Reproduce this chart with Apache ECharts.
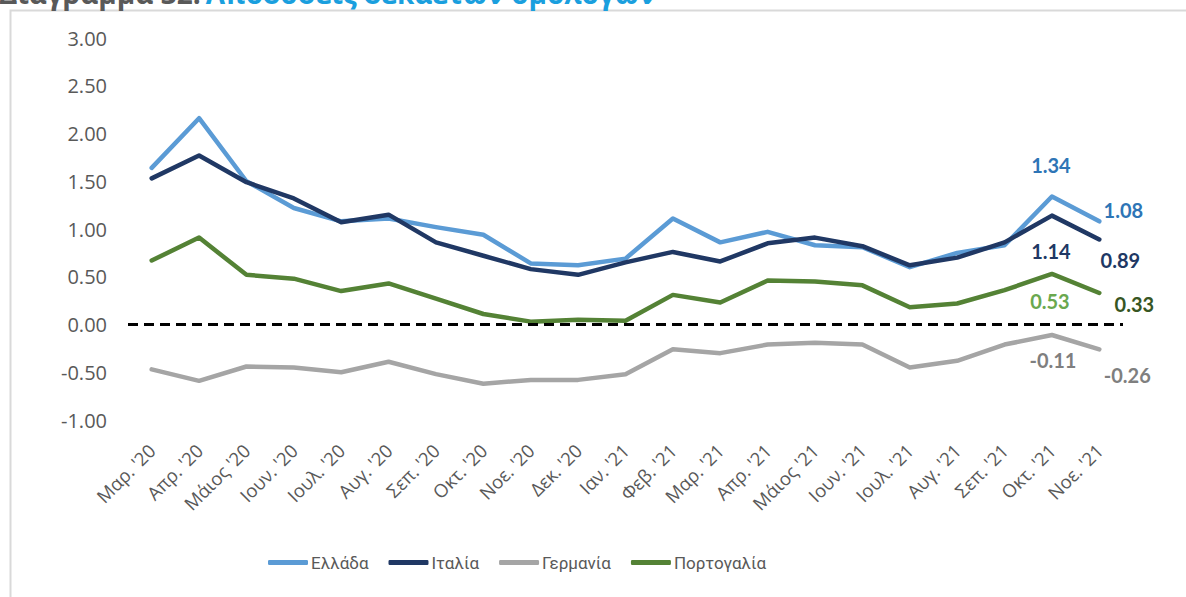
<!DOCTYPE html>
<html>
<head>
<meta charset="utf-8">
<script src="https://cdn.jsdelivr.net/npm/echarts@6/dist/echarts.min.js"></script>
<style>
  html, body { margin: 0; padding: 0; background: #fff; }
  #chart { width: 1186px; height: 597px; }
</style>
</head>
<body>
<div id="chart"></div>
<script>
var months = ["Μαρ. '20", "Απρ. '20", "Μάιος '20", "Ιουν. '20", "Ιουλ. '20", "Αυγ. '20", "Σεπ. '20",
  "Οκτ. '20", "Νοε. '20", "Δεκ. '20", "Ιαν. '21", "Φεβ. '21", "Μαρ. '21", "Απρ. '21", "Μάιος '21",
  "Ιουν. '21", "Ιουλ. '21", "Αυγ. '21", "Σεπ. '21", "Οκτ. '21", "Νοε. '21"];

var greece   = [1.64, 2.16, 1.50, 1.22, 1.08, 1.11, 1.02, 0.94, 0.64, 0.62, 0.69, 1.11, 0.86, 0.97, 0.83, 0.81, 0.60, 0.75, 0.83, 1.34, 1.08];
var italy    = [1.53, 1.77, 1.49, 1.32, 1.07, 1.15, 0.86, 0.72, 0.58, 0.52, 0.65, 0.76, 0.66, 0.85, 0.91, 0.82, 0.62, 0.70, 0.86, 1.14, 0.89];
var germany  = [-0.47, -0.59, -0.44, -0.45, -0.50, -0.39, -0.52, -0.62, -0.58, -0.58, -0.52, -0.26, -0.30, -0.21, -0.19, -0.21, -0.45, -0.38, -0.21, -0.11, -0.26];
var portugal = [0.67, 0.91, 0.52, 0.48, 0.35, 0.43, 0.27, 0.11, 0.03, 0.05, 0.04, 0.31, 0.23, 0.46, 0.45, 0.41, 0.18, 0.22, 0.36, 0.53, 0.33];

var names = ['Ελλάδα', 'Ιταλία', 'Γερμανία', 'Πορτογαλία'];
var yTicks = { min: -1, max: 3, step: 0.5 };

var ink = '#595959';

// label settings for the last two months of each line: [offset, colour]
function withEndLabels(values, endLabels) {
  return values.map(function(v, i) {
    var k = i - (values.length - 2);
    if (k < 0) return v;
    return {
      value: v,
      label: {
        show: true,
        position: 'inside',
        offset: endLabels[k].offset,
        color: endLabels[k].color,
        fontFamily: 'Lato',
        fontWeight: 'bold',
        fontSize: 20,
        formatter: function(p) { return p.value.toFixed(2); }
      }
    };
  });
}

function lineSeries(name, color, values, endLabels) {
  return {
    name: name,
    type: 'line',
    data: withEndLabels(values, endLabels),
    symbol: 'circle',
    symbolSize: 0,
    showSymbol: true,
    lineStyle: { color: color, width: 4.5, cap: 'round', join: 'round' },
    itemStyle: { color: color },
    emphasis: { disabled: true }
  };
}

var chart = echarts.init(document.getElementById('chart'), null, { renderer: 'svg' });
chart.setOption({
  animation: false,
  title: {
    text: '{a|Διάγραμμα 32:} {b|Αποδόσεις δεκαετών ομολόγων}',
    left: -1,
    top: -21,
    padding: 0,
    textStyle: {
      rich: {
        a: { color: ink, fontFamily: 'Open Sans', fontWeight: 'bold', fontSize: 28 },
        b: { color: '#1a9fde', fontFamily: 'Open Sans', fontWeight: 'bold', fontSize: 28 }
      }
    }
  },
  graphic: [{
    type: 'rect',
    z: -1,
    silent: true,
    shape: { x: 10.5, y: 10.5, width: 1300, height: 700 },
    style: { fill: 'none', stroke: '#d9d9d9', lineWidth: 2 }
  }],
  legend: {
    data: names,
    left: 268,
    top: 554,
    padding: 0,
    itemWidth: 40,
    itemHeight: 5,
    itemGap: 20,
    icon: 'roundRect',
    textStyle: { color: ink, fontFamily: 'Roboto', fontSize: 17, padding: [0, 0, 0, -2] }
  },
  grid: { left: 128, right: 63, top: 38, bottom: 177 },
  xAxis: {
    type: 'category',
    data: months,
    boundaryGap: true,
    axisLine: { show: false },
    axisTick: { show: false },
    axisLabel: { rotate: 45, margin: 27, interval: 0, color: ink, fontFamily: 'Open Sans', fontSize: 18.5 }
  },
  yAxis: {
    type: 'value',
    min: yTicks.min,
    max: yTicks.max,
    interval: yTicks.step,
    axisLine: { show: false },
    axisTick: { show: false },
    splitLine: { show: false },
    axisLabel: {
      margin: 21,
      color: ink,
      fontFamily: 'Open Sans',
      fontSize: 20,
      formatter: function(v) { return v.toFixed(2); }
    }
  },
  series: [
    lineSeries(names[0], '#5b9bd5', greece, [
      { offset: [-1, -32], color: '#2e75b6' }, { offset: [24, -11], color: '#2e75b6' }
    ]),
    lineSeries(names[1], '#203864', italy, [
      { offset: [-1, 35], color: '#203864' }, { offset: [21, 20], color: '#203864' }
    ]),
    lineSeries(names[2], '#a5a5a5', germany, [
      { offset: [1, 25], color: '#7f7f7f' }, { offset: [28, 26], color: '#7f7f7f' }
    ]),
    lineSeries(names[3], '#548235', portugal, [
      { offset: [-2, 27], color: '#6aa84f' }, { offset: [35, 11], color: '#375623' }
    ]),
    {
      name: 'zero',
      type: 'line',
      data: [],
      markLine: {
        silent: true,
        symbol: 'none',
        label: { show: false },
        lineStyle: { color: '#000', type: [10, 6], width: 3 },
        data: [{ yAxis: 0 }]
      }
    }
  ]
});
window.addEventListener('resize', function() { chart.resize(); });
</script>
</body>
</html>
